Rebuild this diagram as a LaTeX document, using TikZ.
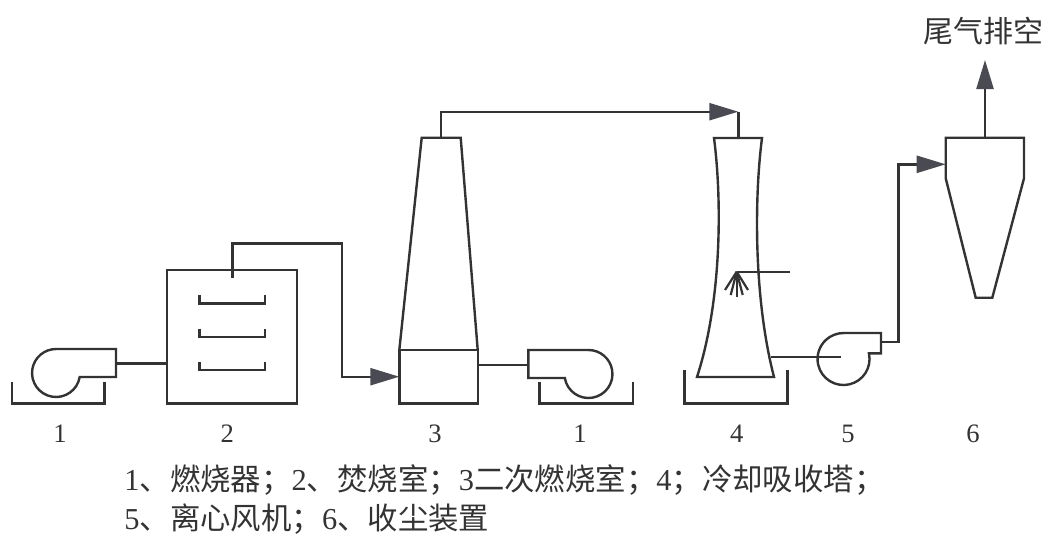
\documentclass[tikz,border=0pt]{standalone}
\usepackage{fontspec}
\setmainfont{Liberation Serif}
\newfontfamily\cjk{Noto Sans CJK SC}
\usepackage{xcolor}
\usetikzlibrary{arrows.meta}
\definecolor{ink}{HTML}{333333}
\definecolor{tipc}{HTML}{4A4A52}
\tikzset{
  equip/.style={draw=ink, line width=1.2pt, line join=miter},
  pipe/.style={draw=ink, line width=1.2pt},
  flow/.style={pipe, -{Triangle[length=14.5pt, width=8.5pt, color=tipc]}},
  num/.style={text=ink, font=\fontsize{13.3}{15}\selectfont, inner sep=0pt},
  capt/.style={text=ink, font=\fontsize{15.2}{17}\selectfont, inner sep=0pt, anchor=west},
  ttl/.style={text=ink, font=\fontsize{15}{17}\selectfont, inner sep=0pt},
}
\newcommand\zh[1]{{\cjk #1}}

\begin{document}
\begin{tikzpicture}[x=0.5pt, y=0.5pt]
  \useasboundingbox (0,0) rectangle (1048,-541);
  \def\rb{12pt}
  \coordinate (b1out) at (116,-363.3);
  \coordinate (b2in) at (166.7,-363.3);
  \coordinate (b2out) at (232.3,-277.7);
  \coordinate (t3in) at (399.3,-376.7);
  \coordinate (t3top) at (440.7,-137.7);
  \coordinate (t3out) at (477.7,-365);
  \coordinate (b1rin) at (528.3,-365);
  \coordinate (t4arr) at (738.3,-111.7);
  \coordinate (t4top) at (738.3,-137.7);
  \coordinate (spray) at (736.7,-271.7);
  \coordinate (t4out) at (771,-357);
  \coordinate (b5c) at (841,-357);
  \coordinate (b5out) at (881,-341.7);
  \coordinate (c6in) at (945.7,-164.3);
  \coordinate (c6top) at (985,-137.7);
  \coordinate (c6exh) at (985,-60);
  % blower 1 and incinerator 2
  \draw[equip] (79.7,-377) arc[start angle=-9.6, end angle=-270, radius=\rb] -- (116,-349) -- (116,-377) -- cycle;
  \draw[equip] (11.7,-381.7) |- (104.3,-403.3) -- (104.3,-381.7);
  \draw[equip] (166.7,-270) rectangle (296.7,-403.3);
  \foreach \y in {303.3,336.7,370}
    \draw[equip] (199.3,{8-\y}) |- (265,-\y) -- (265,{8-\y});
  \draw[pipe] (b1out) -- (b2in);
  \draw[flow] (b2out) |- (341.7,-243.3) |- (t3in);
  % secondary chamber 3 and burner
  \draw[equip] (399.3,-350) -- (421.7,-137.7) -- (460.7,-137.7) -- (477.7,-350);
  \draw[equip] (399.3,-350) rectangle (477.7,-403.3);
  \draw[flow] (t3top) |- (t4arr);
  \draw[pipe] (t4arr) -- (t4top);
  \draw[pipe] (t3out) -- (b1rin);
  \draw[equip] (564.8,-378) arc[start angle=189.6, end angle=450, radius=\rb] -- (528.3,-350) -- (528.3,-378) -- cycle;
  \draw[equip] (539.3,-381.7) |- (632.7,-403.3) -- (632.7,-381.7);
  % cooling tower 4
  \draw[equip] (714,-138) -- (762,-138) .. controls (754,-200) and (754,-300) .. (774,-377)
    -- (697,-377) .. controls (722,-300) and (722,-200) .. (714,-138) -- cycle;
  \draw[equip] (684.3,-370) |- (787.3,-403.3) -- (787.3,-370);
  \draw[pipe] (790,-271.7) -- (spray);
  \foreach \dx/\dy in {-11.7/18.3,-6/23.3,0/25.3,6/23.3,11.3/18.3}
    \draw[pipe, line width=1.1pt] (spray) -- ++(\dx,-\dy);
  % fan 5 and dust collector 6
  \draw[pipe] (t4out) -- (b5c);
  \draw[equip] (868.9,-353.3) arc[start angle=12.7, end angle=-270, radius=13pt] -- (881,-333) -- (881,-353.3) -- cycle;
  \draw[flow] (b5out) -| (898.3,-164.3) -- (c6in);
  \draw[equip] (945.7,-137.7) -- (1024,-137.7) -- (1024,-178.3) -- (992.3,-297.7) -- (975.7,-297.7) -- (945.7,-178.3) -- cycle;
  \draw[flow] (c6top) -- (c6exh);
  \node[ttl] (exh) at (983,-31.5) {\zh{尾气排空}};
  \foreach \x/\n [count=\i] in {60/1,227.3/2,435/3,580/1,736.7/4,848/5,973/6}
    \node[num] (n\i) at (\x,-434) {\n};
  \node[capt] (cap1) at (124,-480) {1\zh{、燃烧器；}2\zh{、焚烧室；}3\zh{二次燃烧室；}4\zh{；冷却吸收塔；}};
  \node[capt] (cap2) at (124,-519) {5\zh{、离心风机；}6\zh{、收尘装置}};
\end{tikzpicture}
\end{document}
